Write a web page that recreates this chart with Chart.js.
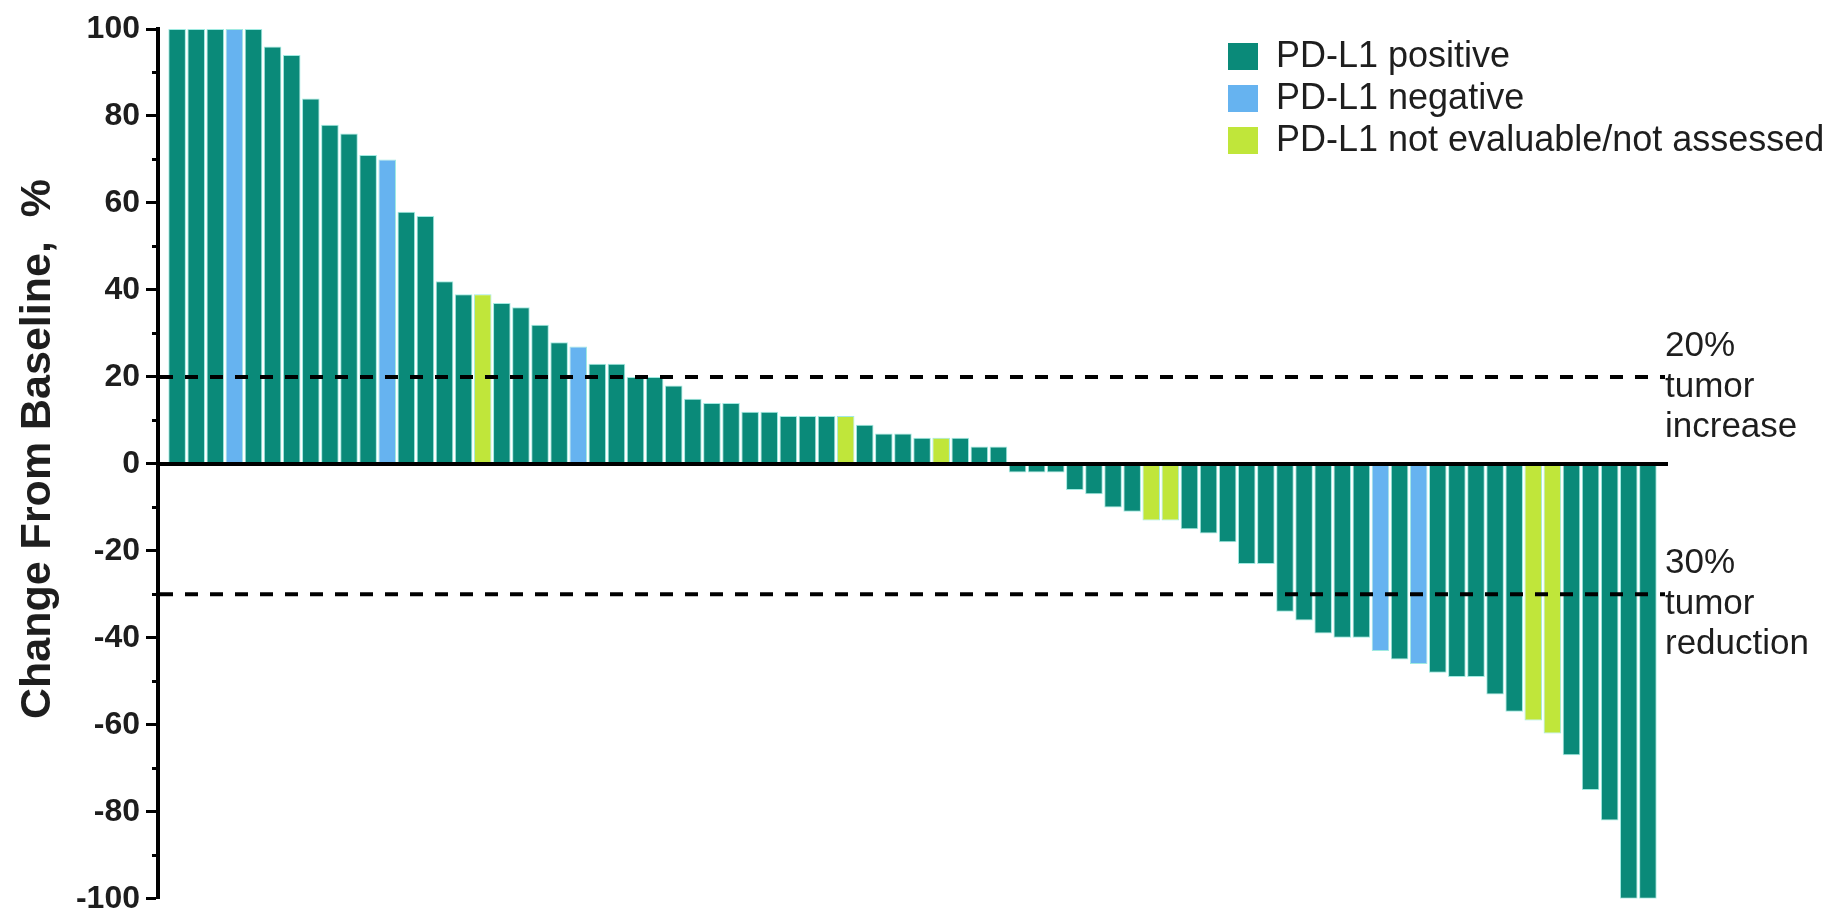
<!DOCTYPE html>
<html>
<head>
<meta charset="utf-8">
<title>Best change from baseline by PD-L1 status</title>
<script src="https://cdn.jsdelivr.net/npm/chart.js@4.4.1/dist/chart.umd.min.js"></script>
<style>
    html, body { margin: 0; padding: 0; background: #ffffff; }
    #wrap { width: 1835px; height: 924px; position: relative; }
</style>
</head>
<body>
<div id="wrap"><canvas id="waterfallChart"></canvas></div>
<script>
// Best % change from baseline, one bar per patient (sorted)
const changeFromBaseline = [
    100, 100, 100, 100, 100, 96, 94, 84, 78, 76,
    71, 70, 58, 57, 42, 39, 39, 37, 36, 32,
    28, 27, 23, 23, 20, 20, 18, 15, 14, 14,
    12, 12, 11, 11, 11, 11, 9, 7, 7, 6,
    6, 6, 4, 4, -2, -2, -2, -6, -7, -10,
    -11, -13, -13, -15, -16, -18, -23, -23, -34, -36,
    -39, -40, -40, -43, -45, -46, -48, -49, -49, -53,
    -57, -59, -62, -67, -75, -82, -100, -100
];

// PD-L1 status per bar: P = positive, N = negative, U = not evaluable/not assessed
const pdl1Status = [
    'P', 'P', 'P', 'N', 'P', 'P', 'P', 'P', 'P', 'P',
    'P', 'N', 'P', 'P', 'P', 'P', 'U', 'P', 'P', 'P',
    'P', 'N', 'P', 'P', 'P', 'P', 'P', 'P', 'P', 'P',
    'P', 'P', 'P', 'P', 'P', 'U', 'P', 'P', 'P', 'P',
    'U', 'P', 'P', 'P', 'P', 'P', 'P', 'P', 'P', 'P',
    'P', 'U', 'U', 'P', 'P', 'P', 'P', 'P', 'P', 'P',
    'P', 'P', 'P', 'N', 'P', 'N', 'P', 'P', 'P', 'P',
    'P', 'U', 'U', 'P', 'P', 'P', 'P', 'P'
];

const statusCodes = ['P', 'N', 'U'];
const statusLabels = ['PD-L1 positive', 'PD-L1 negative', 'PD-L1 not evaluable/not assessed'];
const statusColors = ['#0a8a79', '#66b3f0', '#c0e63a'];

const yTickValues = [-100, -80, -60, -40, -20, 0, 20, 40, 60, 80, 100];

// Reference lines and their side labels
const thresholdValues = [20, -30];
const thresholdLabels = [
    ['20%', 'tumor', 'increase'],
    ['30%', 'tumor', 'reduction']
];

const FONT = "'Liberation Sans', Arial, Helvetica, sans-serif";
const TEXT_COLOR = '#1e1e1e';

// Extra drawing: minor ticks, dashed thresholds, right-side notes, legend, y title
const decorPlugin = {
    id: 'decor',
    afterDatasetsDraw(chart) {
        const ctx = chart.ctx;
        const area = chart.chartArea;
        const y = chart.scales.y;

        ctx.save();

        // minor ticks between labelled ones
        ctx.strokeStyle = '#000';
        ctx.lineWidth = 3;
        for (let i = 0; i < yTickValues.length - 1; i++) {
            const mid = (yTickValues[i] + yTickValues[i + 1]) / 2;
            const py = Math.round(y.getPixelForValue(mid)) + 0.5;
            ctx.beginPath();
            ctx.moveTo(area.left - 6, py);
            ctx.lineTo(area.left, py);
            ctx.stroke();
        }

        // dashed threshold lines
        ctx.setLineDash([13, 12]);
        ctx.lineWidth = 4;
        thresholdValues.forEach(function(v) {
            const py = y.getPixelForValue(v);
            ctx.beginPath();
            ctx.moveTo(area.left + 2, py);
            ctx.lineTo(area.right - 2, py);
            ctx.stroke();
        });
        ctx.setLineDash([]);

        // labels to the right of the thresholds
        ctx.fillStyle = TEXT_COLOR;
        ctx.font = '35px ' + FONT;
        ctx.textAlign = 'left';
        ctx.textBaseline = 'alphabetic';
        thresholdValues.forEach(function(v, k) {
            const py = y.getPixelForValue(v);
            const offsets = [-21, 20, 60];
            thresholdLabels[k].forEach(function(line, j) {
                ctx.fillText(line, area.right - 2, py + offsets[j]);
            });
        });

        // legend, top right
        const lx = 1228, ly = 43, rowGap = 42;
        ctx.font = '36px ' + FONT;
        chart.data.datasets.forEach(function(ds, i) {
            const top = ly + i * rowGap;
            ctx.fillStyle = ds.backgroundColor;
            ctx.fillRect(lx, top, 30, 27);
            ctx.fillStyle = TEXT_COLOR;
            ctx.textBaseline = 'middle';
            ctx.fillText(ds.label, lx + 48, top + 14);
        });

        // y axis title
        ctx.translate(38, 449);
        ctx.rotate(-Math.PI / 2);
        ctx.font = 'bold 43px ' + FONT;
        ctx.textAlign = 'center';
        ctx.textBaseline = 'middle';
        ctx.fillStyle = TEXT_COLOR;
        ctx.fillText('Change From Baseline,  %', 0, 0);

        ctx.restore();
    }
};

function initWaterfallChart() {
    const canvas = document.getElementById('waterfallChart');

    // one dataset per PD-L1 group, x = patient position (1..78)
    const datasets = statusCodes.map(function(code, k) {
        const points = [];
        changeFromBaseline.forEach(function(v, i) {
            if (pdl1Status[i] === code) {
                points.push({ x: i + 1, y: v });
            }
        });
        return {
            label: statusLabels[k],
            data: points,
            backgroundColor: statusColors[k],
            borderColor: 'rgba(150, 232, 222, 0.9)',
            borderWidth: 1,
            borderSkipped: 'start',
            barPercentage: 0.92,
            categoryPercentage: 1.0
        };
    });

    return new Chart(canvas, {
        type: 'bar',
        data: { datasets: datasets },
        options: {
            responsive: true,
            maintainAspectRatio: false,
            animation: false,
            layout: {
                padding: { left: 0, top: 29, right: 168, bottom: 15 }
            },
            plugins: {
                legend: { display: false },
                tooltip: { enabled: false }
            },
            scales: {
                x: {
                    type: 'linear',
                    stacked: true,
                    offset: false,
                    min: 0,
                    max: 79,
                    position: { y: 0 },
                    ticks: { display: false },
                    grid: { display: false, offset: false },
                    border: { display: true, color: '#000', width: 4, z: 1 }
                },
                y: {
                    min: -100,
                    max: 100,
                    afterFit: function(scale) { scale.width = 158; },
                    afterBuildTicks: function(scale) {
                        scale.ticks = yTickValues.map(function(v) { return { value: v }; });
                    },
                    ticks: {
                        color: TEXT_COLOR,
                        padding: 6,
                        font: { family: FONT, size: 32, weight: 'bold' }
                    },
                    grid: {
                        drawOnChartArea: false,
                        drawTicks: true,
                        tickLength: 12,
                        tickWidth: 3,
                        tickColor: '#000'
                    },
                    border: { display: true, color: '#000', width: 4 }
                }
            }
        },
        plugins: [decorPlugin]
    });
}

document.addEventListener('DOMContentLoaded', function() {
    if (typeof Chart === 'undefined') {
        console.error('Chart.js not loaded');
        return;
    }
    initWaterfallChart();
});
</script>
</body>
</html>
